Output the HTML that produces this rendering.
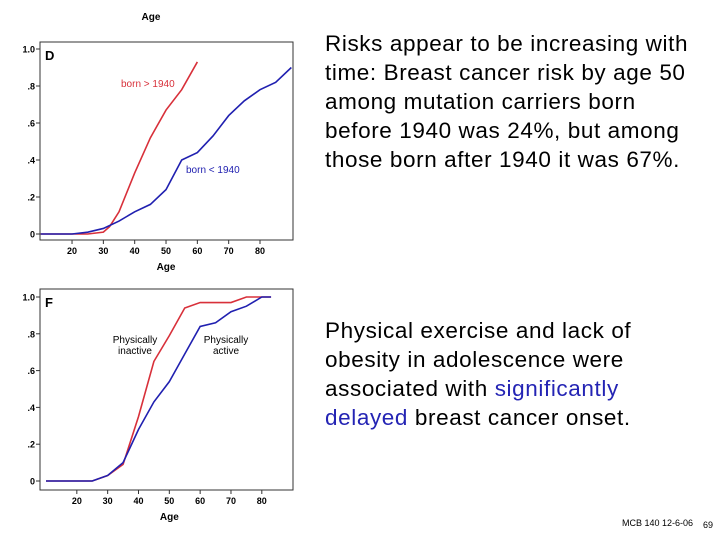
<!DOCTYPE html>
<html><head><meta charset="utf-8"><style>
body{margin:0;width:720px;height:540px;background:#fff;overflow:hidden;font-family:"Liberation Sans",sans-serif;position:relative}
.t{position:absolute;left:325px;font-size:22.5px;letter-spacing:0.6px;line-height:29px;color:#000;white-space:nowrap}
</style></head><body>
<svg id="s" width="720" height="540" style="position:absolute;left:0;top:0"></svg>
<div class="t" style="top:29px">Risks appear to be increasing with<br>time: Breast cancer risk by age 50<br>among mutation carriers born<br>before 1940 was 24%, but among<br>those born after 1940 it was 67%.</div>
<div class="t" style="top:316px">Physical exercise and lack of<br>obesity in adolescence were<br>associated with <span style="color:#2424b4">significantly<br>delayed</span> breast cancer onset.</div>
<div style="position:absolute;left:622px;top:518px;font-size:9px">MCB 140 12-6-06</div>
<div style="position:absolute;left:703px;top:520px;font-size:9px">69</div>
<script>
const dRedX=[10,25,30,32,35,40,45,50,55,60];
const dRedY=[0,0,0.01,0.04,0.12,0.33,0.52,0.67,0.78,0.93];
const dBlueX=[10,20,25,30,35,40,45,50,55,60,65,70,75,80,85,90];
const dBlueY=[0,0,0.01,0.03,0.07,0.12,0.16,0.24,0.40,0.44,0.53,0.64,0.72,0.78,0.82,0.90];
const fRedX=[10,25,30,35,40,45,50,55,60,70,75,83];
const fRedY=[0,0,0.03,0.09,0.35,0.65,0.79,0.94,0.97,0.97,1,1];
const fBlueX=[10,25,30,35,40,45,50,55,60,65,70,75,80,83];
const fBlueY=[0,0,0.03,0.10,0.28,0.43,0.54,0.69,0.84,0.86,0.92,0.95,1,1];
const xTicks=[20,30,40,50,60,70,80];
const yTicks=[0,0.2,0.4,0.6,0.8,1.0];
const yLabels=["0",".2",".4",".6",".8","1.0"];
const NS="http://www.w3.org/2000/svg",svg=document.getElementById('s');
function mk(t,a,p){const e=document.createElementNS(NS,t);for(const k in a)e.setAttribute(k,a[k]);(p||svg).appendChild(e);return e;}
function chart(cfg){
 const g=mk('g',{});
 
 
 const X=v=>cfg.x0+(v-10)*cfg.kx, Y=v=>cfg.y0-v*cfg.ky;
 const fr=mk('rect',{x:cfg.fx,y:cfg.fy,width:cfg.fw,height:cfg.fh,fill:'none',stroke:'#333','stroke-width':1},g);
 
 
 yTicks.forEach((v,i)=>{mk('line',{x1:cfg.fx-4,x2:cfg.fx,y1:Y(v),y2:Y(v),stroke:'#333'},g);
  const t=mk('text',{x:cfg.fx-5,y:Y(v)+3.5,'font-size':9,'text-anchor':'end','font-weight':'bold'},g);t.textContent=yLabels[i];
  
  });
 xTicks.forEach(v=>{mk('line',{x1:X(v),x2:X(v),y1:cfg.fy+cfg.fh,y2:cfg.fy+cfg.fh+4,stroke:'#333'},g);
  const t=mk('text',{x:X(v),y:cfg.fy+cfg.fh+14,'font-size':9,'text-anchor':'middle','font-weight':'bold'},g);t.textContent=v;
  
  });
 const at=mk('text',{x:(X(20)+X(80))/2,y:cfg.fy+cfg.fh+30,'font-size':10,'text-anchor':'middle','font-weight':'bold'},g);at.textContent='Age';
 
 
 const pl=mk('text',{x:cfg.fx+5,y:cfg.fy+18,'font-size':13,'font-weight':'bold'},g);pl.textContent=cfg.letter;
 
 
 cfg.series.forEach(s=>{const p=mk('polyline',{points:s.x.map((v,i)=>X(v)+','+Y(s.y[i])).join(' '),fill:'none',stroke:s.c,'stroke-width':1.6},g);
  
  });
 cfg.labels.forEach(l=>{const t=mk('text',{x:l.x,y:l.y,'font-size':10,fill:l.c,'text-anchor':l.a||'start'},g);
  
  
  l.t.forEach((s,i)=>{const ts=mk('tspan',{x:l.x,dy:i?11:0},t);ts.textContent=s;});});
}
chart({name:'chart-d',letter:'D',x0:40.7,kx:3.133,y0:234,ky:185,fx:40,fy:42,fw:253,fh:198,
 series:[{x:dRedX,y:dRedY,c:'#d8303a',n:'line-born-after-1940'},{x:dBlueX,y:dBlueY,c:'#2020b0',n:'line-born-before-1940'}],
 labels:[{x:121,y:87,c:'#d8303a',t:['born > 1940']},{x:186,y:173,c:'#2020b0',t:['born < 1940']}]});
chart({name:'chart-f',letter:'F',x0:46,kx:3.083,y0:481,ky:184,fx:40,fy:289,fw:253,fh:201,
 series:[{x:fRedX,y:fRedY,c:'#d8303a',n:'line-physically-inactive'},{x:fBlueX,y:fBlueY,c:'#2020b0',n:'line-physically-active'}],
 labels:[{x:135,y:343,c:'#000',a:'middle',t:['Physically','inactive']},{x:226,y:343,c:'#000',a:'middle',t:['Physically','active']}]});
const topTitle=mk('text',{x:151,y:20,'font-size':10,'font-weight':'bold','text-anchor':'middle'});topTitle.textContent='Age';


</script>
</body></html>
